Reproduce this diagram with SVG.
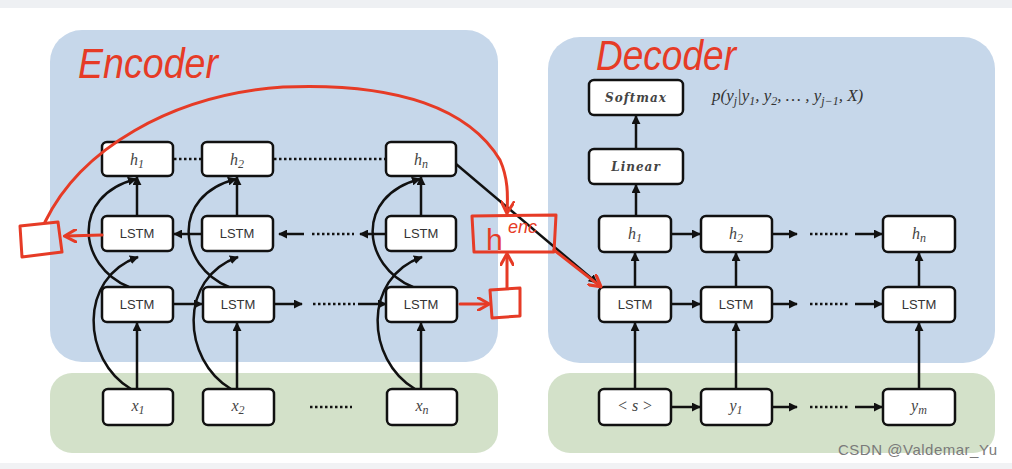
<svg xmlns="http://www.w3.org/2000/svg" width="1012" height="469" viewBox="0 0 1012 469">
<defs>
<marker id="ah" viewBox="0 0 10 10" refX="9" refY="5" markerWidth="9" markerHeight="9" markerUnits="userSpaceOnUse" orient="auto">
<path d="M0,0 L10,5 L0,10 z" fill="#111"/>
</marker>
<marker id="rh" viewBox="0 0 10 10" refX="8" refY="5" markerWidth="14" markerHeight="14" markerUnits="userSpaceOnUse" orient="auto">
<path d="M0,0 L9,5 L0,10" fill="none" stroke="#e63b26" stroke-width="2.2"/>
</marker>
<style>
.node{fill:#fff;stroke:#111;stroke-width:2.5}
.lbl{font-family:"Liberation Sans",Arial,sans-serif;font-size:13px;fill:#333;text-anchor:middle}
.m{font-family:"Liberation Serif","DejaVu Serif",serif;font-style:italic;font-size:16px;fill:#444;text-anchor:middle}
.mb{font-family:"DejaVu Serif","Liberation Serif",serif;font-style:italic;font-weight:bold;font-size:12px;fill:#444;text-anchor:middle;letter-spacing:1px}
.ln{fill:none;stroke:#111;stroke-width:2.5}
.a{fill:none;stroke:#111;stroke-width:2.5;marker-end:url(#ah)}
.dot{fill:none;stroke:#111;stroke-width:2.5;stroke-dasharray:2.5 2.5}
.red{fill:none;stroke:#e63b26;stroke-width:3;stroke-linecap:round;stroke-linejoin:round}
.ra{fill:none;stroke:#e63b26;stroke-width:3;stroke-linecap:round;marker-end:url(#rh)}
.rt{font-family:"Liberation Sans",Arial,sans-serif;fill:#e63b26}
</style>
</defs>
<rect width="1012" height="469" fill="#fff"/>
<rect x="0" y="0" width="1012" height="8" fill="#eef0f3"/>
<rect x="0" y="463" width="1012" height="6" fill="#f1f2f4"/>

<g id="regions">
<rect x="50" y="30" width="448" height="332" rx="32" fill="#c6d7ea"/>
<rect x="50" y="373" width="448" height="80" rx="22" fill="#d3e1c9"/>
<rect x="548" y="37" width="447" height="326" rx="32" fill="#c6d7ea"/>
<rect x="548" y="373" width="447" height="80" rx="22" fill="#d3e1c9"/>
</g>

<g id="connectors">
<path class="a" d="M137,389 L137,323"/>
<path class="a" d="M237,389 L237,323"/>
<path class="a" d="M421,389 L421,323"/>
<path class="a" d="M137,216 L137,177"/>
<path class="a" d="M237,216 L237,177"/>
<path class="a" d="M421,216 L421,177"/>
<path class="a" d="M131,389 C82,360 78,278 138,257"/>
<path class="a" d="M231,389 C182,360 178,278 238,257"/>
<path class="a" d="M415,389 C366,360 362,278 422,257"/>
<path class="a" d="M129,287 C78,266 70,196 136,179"/>
<path class="a" d="M229,287 C178,266 170,196 236,179"/>
<path class="a" d="M413,287 C362,266 354,196 420,179"/>
<path class="dot" d="M174,159 L202,159"/>
<path class="dot" d="M274,159 L386,159"/>
<path class="a" d="M202,234 L174,234"/>
<path class="a" d="M304,234 L279,234"/>
<path class="dot" d="M312,234 L354,234"/>
<path class="a" d="M386,234 L360,234"/>
<path class="a" d="M173,304 L202,304"/>
<path class="a" d="M273,304 L302,304"/>
<path class="dot" d="M313,304 L355,304"/>
<path class="a" d="M358,304 L386,304"/>
<path class="dot" d="M310,407 L352,407"/>
<path class="a" d="M456,164 L597,283"/>
<path class="a" d="M636,149 L636,116"/>
<path class="a" d="M636,216 L636,185"/>
<path class="a" d="M635,287 L635,253"/>
<path class="a" d="M736,287 L736,253"/>
<path class="a" d="M919,287 L919,253"/>
<path class="a" d="M635,389 L635,323"/>
<path class="a" d="M736,389 L736,323"/>
<path class="a" d="M919,389 L919,323"/>
<path class="a" d="M671,234 L700,234"/>
<path class="a" d="M772,234 L797,234"/>
<path class="dot" d="M810,234 L850,234"/>
<path class="a" d="M855,234 L882,234"/>
<path class="a" d="M671,304 L700,304"/>
<path class="a" d="M772,304 L797,304"/>
<path class="dot" d="M810,304 L850,304"/>
<path class="a" d="M855,304 L882,304"/>
<path class="a" d="M671,407 L700,407"/>
<path class="a" d="M772,407 L797,407"/>
<path class="dot" d="M810,407 L850,407"/>
<path class="a" d="M855,407 L882,407"/>
</g>

<g id="enc_h1"><rect class="node" x="102" y="142" width="71" height="34" rx="5"/><text class="m" x="137" y="165">h<tspan font-size="12" dy="3">1</tspan></text></g>
<g id="enc_h2"><rect class="node" x="202" y="142" width="71" height="34" rx="5"/><text class="m" x="237" y="165">h<tspan font-size="12" dy="3">2</tspan></text></g>
<g id="enc_hn"><rect class="node" x="386" y="142" width="70" height="34" rx="5"/><text class="m" x="421" y="165">h<tspan font-size="12" dy="3">n</tspan></text></g>
<g id="enc_lstm1_1"><rect class="node" x="102" y="216" width="71" height="35" rx="5"/><text class="lbl" x="137" y="238">LSTM</text></g>
<g id="enc_lstm1_2"><rect class="node" x="202" y="216" width="71" height="35" rx="5"/><text class="lbl" x="237" y="238">LSTM</text></g>
<g id="enc_lstm1_n"><rect class="node" x="386" y="216" width="70" height="35" rx="5"/><text class="lbl" x="421" y="238">LSTM</text></g>
<g id="enc_lstm2_1"><rect class="node" x="102" y="287" width="71" height="35" rx="5"/><text class="lbl" x="137" y="309">LSTM</text></g>
<g id="enc_lstm2_2"><rect class="node" x="203" y="287" width="71" height="35" rx="5"/><text class="lbl" x="238" y="309">LSTM</text></g>
<g id="enc_lstm2_n"><rect class="node" x="386" y="287" width="71" height="35" rx="5"/><text class="lbl" x="421" y="309">LSTM</text></g>
<g id="enc_x1"><rect class="node" x="103" y="389" width="70" height="36" rx="5"/><text class="m" x="138" y="411">x<tspan font-size="12" dy="3">1</tspan></text></g>
<g id="enc_x2"><rect class="node" x="203" y="389" width="71" height="36" rx="5"/><text class="m" x="238" y="411">x<tspan font-size="12" dy="3">2</tspan></text></g>
<g id="enc_xn"><rect class="node" x="387" y="389" width="70" height="36" rx="5"/><text class="m" x="422" y="411">x<tspan font-size="12" dy="3">n</tspan></text></g>

<g id="dec_softmax"><rect class="node" x="589" y="80" width="94" height="35" rx="5"/><text class="mb" x="636" y="102">Softmax</text></g>
<g id="dec_linear"><rect class="node" x="589" y="149" width="94" height="35" rx="5"/><text class="mb" x="636" y="171">Linear</text></g>
<g id="dec_h1"><rect class="node" x="599" y="216" width="72" height="36" rx="5"/><text class="m" x="635" y="239">h<tspan font-size="12" dy="3">1</tspan></text></g>
<g id="dec_h2"><rect class="node" x="701" y="216" width="71" height="36" rx="5"/><text class="m" x="736" y="239">h<tspan font-size="12" dy="3">2</tspan></text></g>
<g id="dec_hn"><rect class="node" x="883" y="216" width="72" height="36" rx="5"/><text class="m" x="919" y="239">h<tspan font-size="12" dy="3">n</tspan></text></g>
<g id="dec_lstm1"><rect class="node" x="599" y="287" width="72" height="35" rx="5"/><text class="lbl" x="635" y="309">LSTM</text></g>
<g id="dec_lstm2"><rect class="node" x="701" y="287" width="71" height="35" rx="5"/><text class="lbl" x="736" y="309">LSTM</text></g>
<g id="dec_lstmn"><rect class="node" x="883" y="287" width="72" height="35" rx="5"/><text class="lbl" x="919" y="309">LSTM</text></g>
<g id="dec_s"><rect class="node" x="599" y="389" width="72" height="36" rx="5"/><text class="m" x="635" y="411" font-size="13" fill="#666">&lt; s &gt;</text></g>
<g id="dec_y1"><rect class="node" x="701" y="389" width="71" height="36" rx="5"/><text class="m" x="736" y="411">y<tspan font-size="12" dy="3">1</tspan></text></g>
<g id="dec_ym"><rect class="node" x="883" y="389" width="72" height="36" rx="5"/><text class="m" x="919" y="411">y<tspan font-size="12" dy="3">m</tspan></text></g>

<g id="prob"><text x="712" y="101" font-family="Liberation Serif,serif" font-style="italic" font-size="17" fill="#333">p(y<tspan font-size="12" dy="4">j</tspan><tspan dy="-4">|y</tspan><tspan font-size="12" dy="4">1</tspan><tspan dy="-4">, y</tspan><tspan font-size="12" dy="4">2</tspan><tspan dy="-4">, … , y</tspan><tspan font-size="12" dy="4">j−1</tspan><tspan dy="-4">, X)</tspan></text></g>

<g id="annotations">
<text class="rt" x="78" y="78" font-size="42" font-style="italic" textLength="140" lengthAdjust="spacingAndGlyphs">Encoder</text>
<text class="rt" x="596" y="70" font-size="42" font-style="italic" textLength="140" lengthAdjust="spacingAndGlyphs">Decoder</text>
<path class="ra" d="M45,222 C80,150 170,95 283,87 C400,82 470,110 500,160 C508,178 508,195 507,212"/>
<path class="red" d="M20,226 L58,222 L62,252 L22,257 z"/>
<path class="ra" d="M102,235 L66,236"/>
<path class="red" d="M472,216 L556,215 L554,252 L474,252 M472,216 L474,252"/>
<text class="rt" x="486" y="250" font-size="30">h</text>
<text class="rt" x="508" y="233" font-size="18" font-style="italic">enc</text>
<path class="red" d="M490,290 L520,288 L520,316 L492,318 z"/>
<path class="ra" d="M460,304 L488,304"/>
<path class="ra" d="M507,288 L507,255"/>
<path class="ra" d="M554,250 L600,286"/>
</g>

<text x="838" y="455" font-family="Liberation Sans,Arial,sans-serif" font-size="15" fill="#7a7a7a" textLength="159">CSDN @Valdemar_Yu</text>
</svg>
